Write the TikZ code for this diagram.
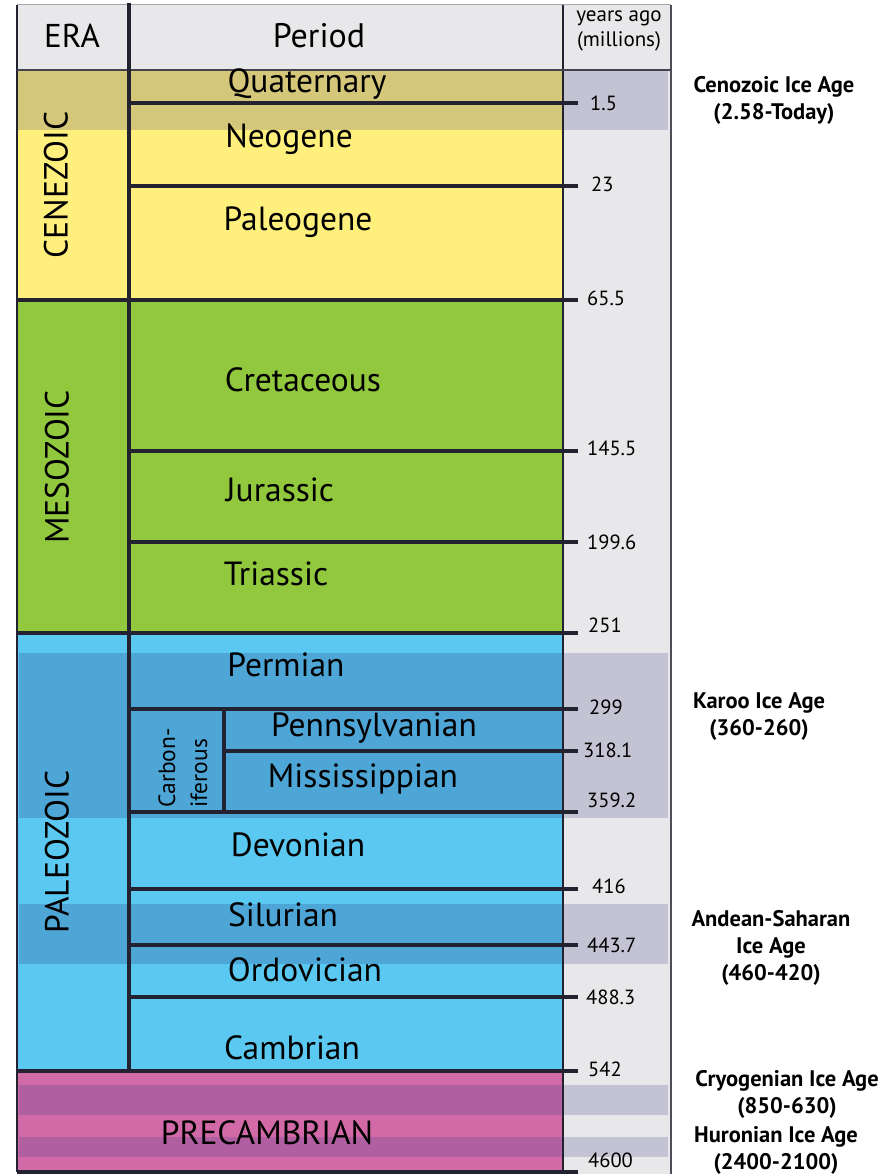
\documentclass[tikz,border=0pt]{standalone}
\usepackage{fontspec}
\setmainfont{PT Sans}
\definecolor{hdr}{HTML}{E8E8EA}
\definecolor{icegray}{HTML}{C3C3D3}
\definecolor{ceno}{HTML}{FFF07D}
\definecolor{cenoice}{HTML}{D5C77A}
\definecolor{meso}{HTML}{92C83E}
\definecolor{paleo}{HTML}{5AC8F0}
\definecolor{paleoice}{HTML}{4EA6D7}
\definecolor{prec}{HTML}{D36AA8}
\definecolor{precice}{HTML}{B060A0}
\definecolor{ink}{HTML}{222230}
\begin{document}
\begin{tikzpicture}[x=1pt,y=-1pt,
  bound/.style={draw=ink,line width=3.4pt},
  hdrtext/.style={font=\fontsize{33}{36}\selectfont,inner sep=0pt},
  pertext/.style={font=\fontsize{33.5}{36}\selectfont,inner sep=0pt},
  eratext/.style={font=\fontsize{33.5}{36}\selectfont,inner sep=0pt,rotate=90},
  yeartext/.style={font=\fontsize{20.5}{24}\selectfont,inner sep=0pt,anchor=west},
  icetext/.style={font=\fontsize{22.5}{27}\selectfont\bfseries,inner sep=0pt,align=center}]
\useasboundingbox (0,0) rectangle (894,1174);
\fill[white] (0,0) rectangle (894,1174);
% backgrounds
\fill[hdr] (17,5) rectangle (671,70);
\fill[hdr] (563,70) rectangle (671,1174);
\fill[ceno] (17,70) rectangle (563,300);
\fill[meso] (17,300) rectangle (563,633);
\fill[paleo] (17,633) rectangle (563,1071);
\fill[prec] (17,1071) rectangle (563,1172);
% ice age bands
\fill[cenoice] (17,70) rectangle (563,130);
\fill[icegray] (563,70) rectangle (668,130);
\fill[paleoice] (19,653) rectangle (563,818);
\fill[icegray] (563,653) rectangle (668,818);
\fill[paleoice] (19,904) rectangle (563,964);
\fill[icegray] (563,904) rectangle (668,964);
\fill[precice] (19,1085) rectangle (563,1115);
\fill[icegray] (563,1085) rectangle (668,1115);
\fill[precice] (19,1137) rectangle (563,1157);
\fill[icegray] (563,1137) rectangle (668,1157);
% frame
\draw[gray!70,line width=1pt] (17,5) -- (671,5);
\draw[ink,line width=1.3pt] (563,5) -- (563,1174);
\draw[ink!80,line width=1.7pt] (671,5) -- (671,1174);
\draw[ink,line width=2.2pt] (17,5) -- (17,1172);
\draw[ink!85,line width=2pt] (17,70) -- (671,70);
\draw[bound] (129,3) -- (129,1071);
\draw[bound] (224,709) -- (224,812);
% boundaries
\draw[bound] (129,103) -- (578,103);
\draw[bound] (129,186) -- (578,186);
\draw[bound] (17,300) -- (578,300);
\draw[bound] (129,451) -- (578,451);
\draw[bound] (129,542) -- (578,542);
\draw[bound] (17,633) -- (578,633);
\draw[bound] (129,709) -- (578,709);
\draw[bound] (224,751) -- (578,751);
\draw[bound] (129,812) -- (578,812);
\draw[bound] (129,889) -- (578,889);
\draw[bound] (129,945) -- (578,945);
\draw[bound] (129,997) -- (578,997);
\draw[bound] (17,1071) -- (578,1071);
\draw[bound] (17,1172) -- (578,1172);
% headers
\node[hdrtext] (hera) at (72,36) {ERA};
\node[hdrtext,font=\fontsize{34}{36}\selectfont] (hper) at (319,36) {Period};
\node[font=\fontsize{21}{25}\selectfont,inner sep=0pt,align=center] (hyr) at (619,31) {years ago\\(millions)};
% eras
\node[eratext] (ceno) at (56,185) {CENEZOIC};
\node[eratext] (meso) at (57,467) {MESOZOIC};
\node[eratext] (paleo) at (57,852) {PALEOZOIC};
\node[pertext] (prec) at (267,1133) {PRECAMBRIAN};
% periods
\node[pertext] (quat) at (307,84) {Quaternary};
\node[pertext] (neog) at (289,139) {Neogene};
\node[pertext] (paleog) at (298,222) {Paleogene};
\node[pertext] (cret) at (303,380) {Cretaceous};
\node[pertext] (jur) at (280,490) {Jurassic};
\node[pertext] (tri) at (276,574) {Triassic};
\node[pertext] (perm) at (286,665) {Permian};
\node[pertext] (penn) at (374,728) {Pennsylvanian};
\node[pertext] (miss) at (363,779) {Mississippian};
\node[pertext] (dev) at (298,845) {Devonian};
\node[pertext] (sil) at (283,915) {Silurian};
\node[pertext] (ord) at (305,970) {Ordovician};
\node[pertext] (camb) at (292,1048) {Cambrian};
\node[font=\fontsize{23.5}{32}\selectfont,inner sep=0pt,rotate=90,align=left] (carb) at (183,768) {Carbon-\\iferous};
% years
\node[yeartext] (y1) at (590,103) {1.5};
\node[yeartext] (y2) at (591,184) {23};
\node[yeartext] (y3) at (587,298) {65.5};
\node[yeartext] (y4) at (587,448) {145.5};
\node[yeartext] (y5) at (587,542) {199.6};
\node[yeartext] (y6) at (588,625) {251};
\node[yeartext] (y7) at (589,707) {299};
\node[yeartext] (y8) at (583,750) {318.1};
\node[yeartext] (y9) at (587,800) {359.2};
\node[yeartext] (y10) at (592,886) {416};
\node[yeartext] (y11) at (587,945) {443.7};
\node[yeartext] (y12) at (586,997) {488.3};
\node[yeartext] (y13) at (588,1069) {542};
\node[yeartext] (y14) at (588,1160) {4600};
% ice ages
\node[icetext] (ice1) at (774,100) {Cenozoic Ice Age\\(2.58-Today)};
\node[icetext] (ice2) at (759,717) {Karoo Ice Age\\(360-260)};
\node[icetext] (ice3) at (771,948) {Andean-Saharan\\Ice Age\\(460-420)};
\node[icetext] (ice4) at (787,1094) {Cryogenian Ice Age\\(850-630)};
\node[icetext] (ice5) at (776,1150) {Huronian Ice Age\\(2400-2100)};
\end{tikzpicture}
\end{document}
